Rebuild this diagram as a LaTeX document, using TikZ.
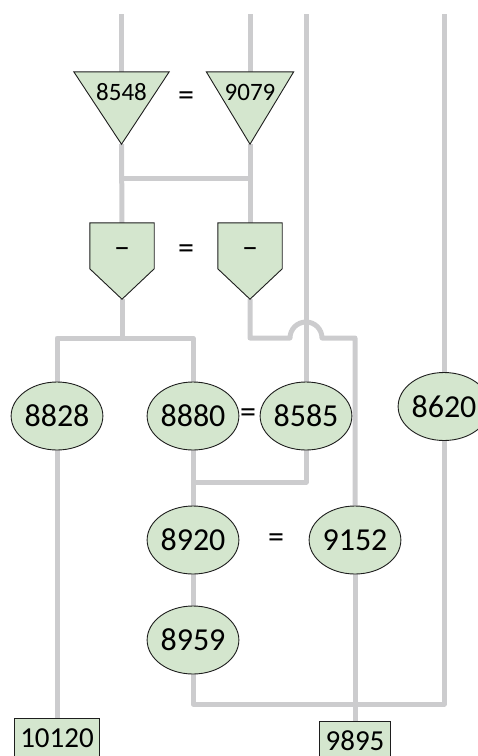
\documentclass[tikz,border=0pt]{standalone}
\usepackage{fontspec}
\setmainfont{Carlito}
\usetikzlibrary{shapes.geometric,calc}
\definecolor{nodefill}{RGB}{212,230,206}
\definecolor{wiregray}{RGB}{204,204,206}
\definecolor{edgeink}{RGB}{30,30,30}
\pgfdeclarelayer{wires}
\pgfsetlayers{wires,main}
\begin{document}
\begin{tikzpicture}[x=1pt,y=-1pt,
  wire/.style={draw=wiregray,line width=5pt,line join=round},
  ell/.style={ellipse,draw=edgeink,fill=nodefill,line width=0.9pt,
    minimum width=77pt,minimum height=68pt,inner sep=0pt,
    font=\fontsize{32}{33}\selectfont},
  outbox/.style={rectangle,draw=edgeink,fill=nodefill,line width=0.9pt,
    minimum height=40pt,inner xsep=6pt,inner ysep=0pt,
    font=\fontsize{29}{30}\selectfont},
  frame/.style={rectangle,inner sep=0pt},
  gate/.style={draw=edgeink,fill=nodefill,line width=0.9pt,line join=miter},
  tlabel/.style={inner sep=0pt,font=\fontsize{25}{26}\selectfont},
  bigsym/.style={inner sep=0pt,font=\fontsize{32}{33}\selectfont}
]
\useasboundingbox (0,0) rectangle (478,756);
\clip (0,0) rectangle (478,756);

% triangle and pentagon frames
\node[frame,minimum width=95pt,minimum height=72pt] (t1) at (121.5,108) {};
\node[frame,minimum width=87pt,minimum height=72pt] (t2) at (250,108) {};
\node[frame,minimum width=64pt,minimum height=76pt] (p1) at (122,261) {};
\node[frame,minimum width=64pt,minimum height=76pt] (p2) at (250,261) {};

\draw[gate] (t1.north west) -- (t1.north east) -- (t1.south) -- cycle;
\draw[gate] (t2.north west) -- (t2.north east) -- (t2.south) -- cycle;
\draw[gate] (p1.north west) -- (p1.north east) -- ($(p1.north east)+(0,46)$)
  -- (p1.south) -- ($(p1.north west)+(0,46)$) -- cycle;
\draw[gate] (p2.north west) -- (p2.north east) -- ($(p2.north east)+(0,46)$)
  -- (p2.south) -- ($(p2.north west)+(0,46)$) -- cycle;

\node[tlabel] (l8548) at (121.5,92) {8548};
\node[tlabel] (l9079) at (250,92) {9079};
\node[bigsym] (d1) at (122,253) {–};
\node[bigsym] (d2) at (250,253) {–};

% equality marks
\node[bigsym] (eq1) at (186,99) {=};
\node[bigsym] (eq2) at (186,252) {=};
\node[bigsym] (eq3) at (248,416) {=};
\node[bigsym] (eq4) at (276,541) {=};

% ellipses
\node[ell] (e8828) at (57,416) {8828};
\node[ell] (e8880) at (193,416) {8880};
\node[ell] (e8585) at (306,416) {8585};
\node[ell] (e8620) at (444,406.5) {8620};
\node[ell] (e8920) at (193,540) {8920};
\node[ell] (e9152) at (355,540) {9152};
\node[ell] (e8959) at (193,640) {8959};

% output boxes
\node[outbox] (o10120) at (57,738) {10120};
\node[outbox] (o9895) at (355,741) {9895};

% wire end points and corners
\coordinate (top1) at (121.5,14);
\coordinate (top2) at (250,14);
\coordinate (top3) at (306,14);
\coordinate (top4) at (444,14);
\coordinate (h1) at (121.5,178);
\coordinate (h2) at (250,178);
\coordinate (s1) at (122,338);
\coordinate (hopL) at (290,338);
\coordinate (m1) at (193,482);
\coordinate (b1) at (444,704);

\begin{pgfonlayer}{wires}
\draw[wire] (top1) -- (t1.north);
\draw[wire] (t1.south) -- (p1.north);
\draw[wire] (top2) -- (t2.north);
\draw[wire] (t2.south) -- (p2.north);
\draw[wire] (h1) -- (h2);
\draw[wire] (p1.south) -- (s1);
\draw[wire] (e8828.north) -- (e8828.north |- s1) -- (e8880.north |- s1) -- (e8880.north);
\draw[wire] (p2.south) -- (p2.south |- s1) -- (hopL)
  arc[start angle=180,end angle=0,radius=16pt] -- (e9152.north |- s1) -- (e9152.north);
\draw[wire] (top3) -- (e8585.north);
\draw[wire] (e8585.south) |- (m1);
\draw[wire] (e8880.south) -- (e8920.north);
\draw[wire] (e8920.south) -- (e8959.north);
\draw[wire] (top4) -- (e8620.north);
\draw[wire] (e8620.south) -- (b1) -| (e8959.south);
\draw[wire] (e8828.south) -- (o10120.north);
\draw[wire] (e9152.south) -- (o9895.north);
\end{pgfonlayer}
\end{tikzpicture}
\end{document}
